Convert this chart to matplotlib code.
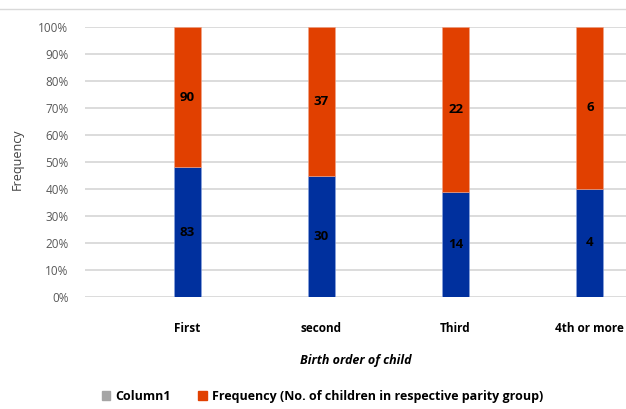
import matplotlib as mpl
mpl.use('Agg')
from matplotlib import pyplot as plt
from matplotlib.patches import Patch
from matplotlib.lines import Line2D
import numpy as np

categories = ["First", "second", "Third", "4th or more"]
blue_counts = [83, 30, 14, 4]
freq_counts = [90, 37, 22, 6]
column1 = [0, 0, 0, 0]

blue = np.array(blue_counts, dtype=float)
freq = np.array(freq_counts, dtype=float)
tot = blue + freq
blue_pct = blue / tot * 100
freq_pct = freq / tot * 100

plt.rcParams['font.family'] = ['Open Sans', 'DejaVu Sans']

fig = plt.figure(figsize=(6.26, 4.09), dpi=100)
ax = fig.add_axes([0.136, 0.274, 0.864, 0.66])

x = np.arange(len(categories))
w = 0.2
c_blue = '#00309E'
c_orange = '#E14000'

ax.bar(x, column1, w, color='#A5A5A5')
ax.bar(x, blue_pct, w, color=c_blue, edgecolor='#8CA6E0', linewidth=0.4)
ax.bar(x, freq_pct, w, bottom=blue_pct, color=c_orange, edgecolor='#F2A58A', linewidth=0.4)

for i in range(len(x)):
    ax.text(x[i], blue_pct[i] / 2, str(blue_counts[i]), ha='center', va='center',
            fontsize=9.5, fontweight='bold', color='black')
    ax.text(x[i], blue_pct[i] + freq_pct[i] / 2, str(freq_counts[i]), ha='center', va='center',
            fontsize=9.5, fontweight='bold', color='black')

ax.set_xlim(-0.76, 3.27)
ax.set_ylim(0, 100)
ax.set_yticks(range(0, 101, 10))
ax.set_yticklabels([str(v) + "%" for v in range(0, 101, 10)], fontsize=8.5, color='#595959')
ax.set_xticks(x)
ax.set_xticklabels(categories, fontsize=8.5, fontweight='bold', color='black')
ax.tick_params(axis='both', length=0)
ax.tick_params(axis='x', pad=18)
ax.tick_params(axis='y', pad=12)

ax.yaxis.grid(True, color='#D9D9D9', linewidth=1.3)
ax.set_axisbelow(True)
for s in ax.spines.values():
    s.set_visible(False)

ax.set_xlabel("Birth order of child", fontsize=9, fontweight='bold', style='italic', labelpad=14)
fig.text(0.028, 0.61, "Frequency", rotation=90, ha='center', va='center', fontsize=9, color='#404040')

# chart border line at top
fig.add_artist(Line2D([0, 1], [0.978, 0.978], transform=fig.transFigure, color='#D9D9D9', linewidth=1))

handles = [Patch(color='#A5A5A5'), Patch(color=c_orange)]
labels = ["Column1", "Frequency (No. of children in respective parity group)"]
fig.legend(handles, labels, loc='center', bbox_to_anchor=(0.515, 0.03), ncol=2, frameon=False,
           handlelength=0.7, handleheight=0.7, handletextpad=0.4, columnspacing=2.2,
           prop={'size': 9, 'weight': 'bold'})

plt.savefig("out.png", dpi=100)
